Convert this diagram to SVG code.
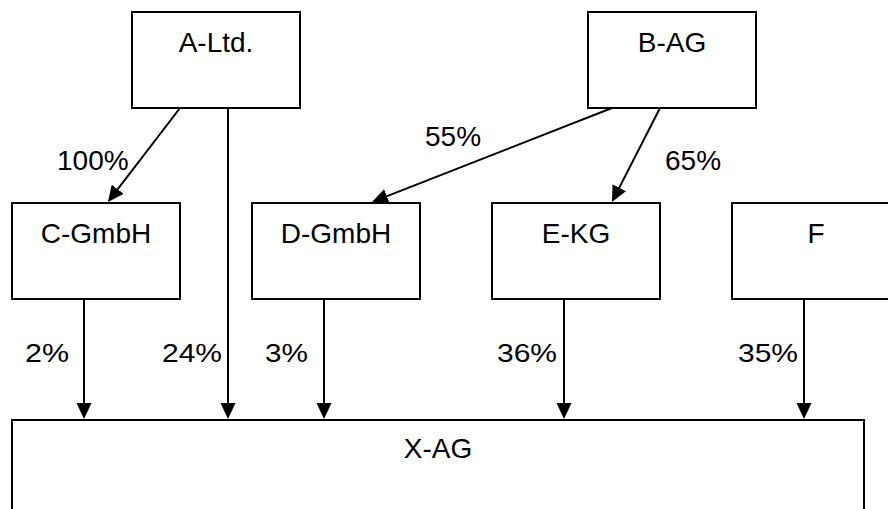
<svg xmlns="http://www.w3.org/2000/svg" width="888" height="509" viewBox="0 0 888 509">
  <style>
    .box { fill: #ffffff; stroke: #000000; stroke-width: 2; }
    .lbl { font-family: "Liberation Sans", Arial, sans-serif; font-size: 28px; fill: #000000; text-anchor: middle; }
    .pct { font-family: "Liberation Sans", Arial, sans-serif; font-size: 28px; fill: #000000; }
    .pcts { font-family: "Liberation Sans", Arial, sans-serif; font-size: 25px; fill: #000000; }
    .edge { fill: none; stroke: #000000; stroke-width: 2; marker-end: url(#arrow); }
  </style>
  <defs>
    <marker id="arrow" markerUnits="userSpaceOnUse" markerWidth="16" markerHeight="15" refX="8" refY="7.5" orient="auto" viewBox="0 0 16 15">
      <path d="M0,0 L16,7.5 L0,15 z" fill="#000000"/>
    </marker>
  </defs>
  <rect width="888" height="509" fill="#ffffff"/>

  <g id="node-A">
    <rect class="box" x="132" y="12" width="168" height="96"/>
    <text class="lbl" x="216" y="52">A-Ltd.</text>
  </g>
  <g id="node-B">
    <rect class="box" x="588" y="12" width="168" height="96"/>
    <text class="lbl" x="672" y="52">B-AG</text>
  </g>
  <g id="node-C">
    <rect class="box" x="12" y="203" width="168" height="96"/>
    <text class="lbl" x="96" y="243">C-GmbH</text>
  </g>
  <g id="node-D">
    <rect class="box" x="252" y="203" width="168" height="96"/>
    <text class="lbl" x="336" y="243">D-GmbH</text>
  </g>
  <g id="node-E">
    <rect class="box" x="492" y="203" width="168" height="96"/>
    <text class="lbl" x="576" y="243">E-KG</text>
  </g>
  <g id="node-F">
    <rect class="box" x="732" y="203" width="168" height="96"/>
    <text class="lbl" x="816" y="243">F</text>
  </g>
  <g id="node-X">
    <rect class="box" x="12" y="420" width="852" height="110"/>
    <text class="lbl" x="438" y="458">X-AG</text>
  </g>

  <g id="connectors">
    <line class="edge" x1="180" y1="108" x2="112.8" y2="195.6"/>
    <line class="edge" x1="612" y1="108" x2="379.4" y2="199.1"/>
    <line class="edge" x1="660" y1="108" x2="615.6" y2="194.9"/>
    <line class="edge" x1="84" y1="299" x2="84" y2="411"/>
    <line class="edge" x1="228" y1="108" x2="228" y2="411"/>
    <line class="edge" x1="324" y1="299" x2="324" y2="411"/>
    <line class="edge" x1="564" y1="299" x2="564" y2="411"/>
    <line class="edge" x1="804" y1="299" x2="804" y2="411"/>
  </g>

  <g id="labels">
    <text class="pct" x="57" y="170">100%</text>
    <text class="pct" x="425" y="146">55%</text>
    <text class="pct" x="665" y="170">65%</text>
    <text class="pcts" x="25" y="362" textLength="44" lengthAdjust="spacingAndGlyphs">2%</text>
    <text class="pcts" x="162" y="362" textLength="60" lengthAdjust="spacingAndGlyphs">24%</text>
    <text class="pcts" x="265" y="362" textLength="43" lengthAdjust="spacingAndGlyphs">3%</text>
    <text class="pcts" x="497" y="362" textLength="60" lengthAdjust="spacingAndGlyphs">36%</text>
    <text class="pcts" x="738" y="362" textLength="60" lengthAdjust="spacingAndGlyphs">35%</text>
  </g>
</svg>
